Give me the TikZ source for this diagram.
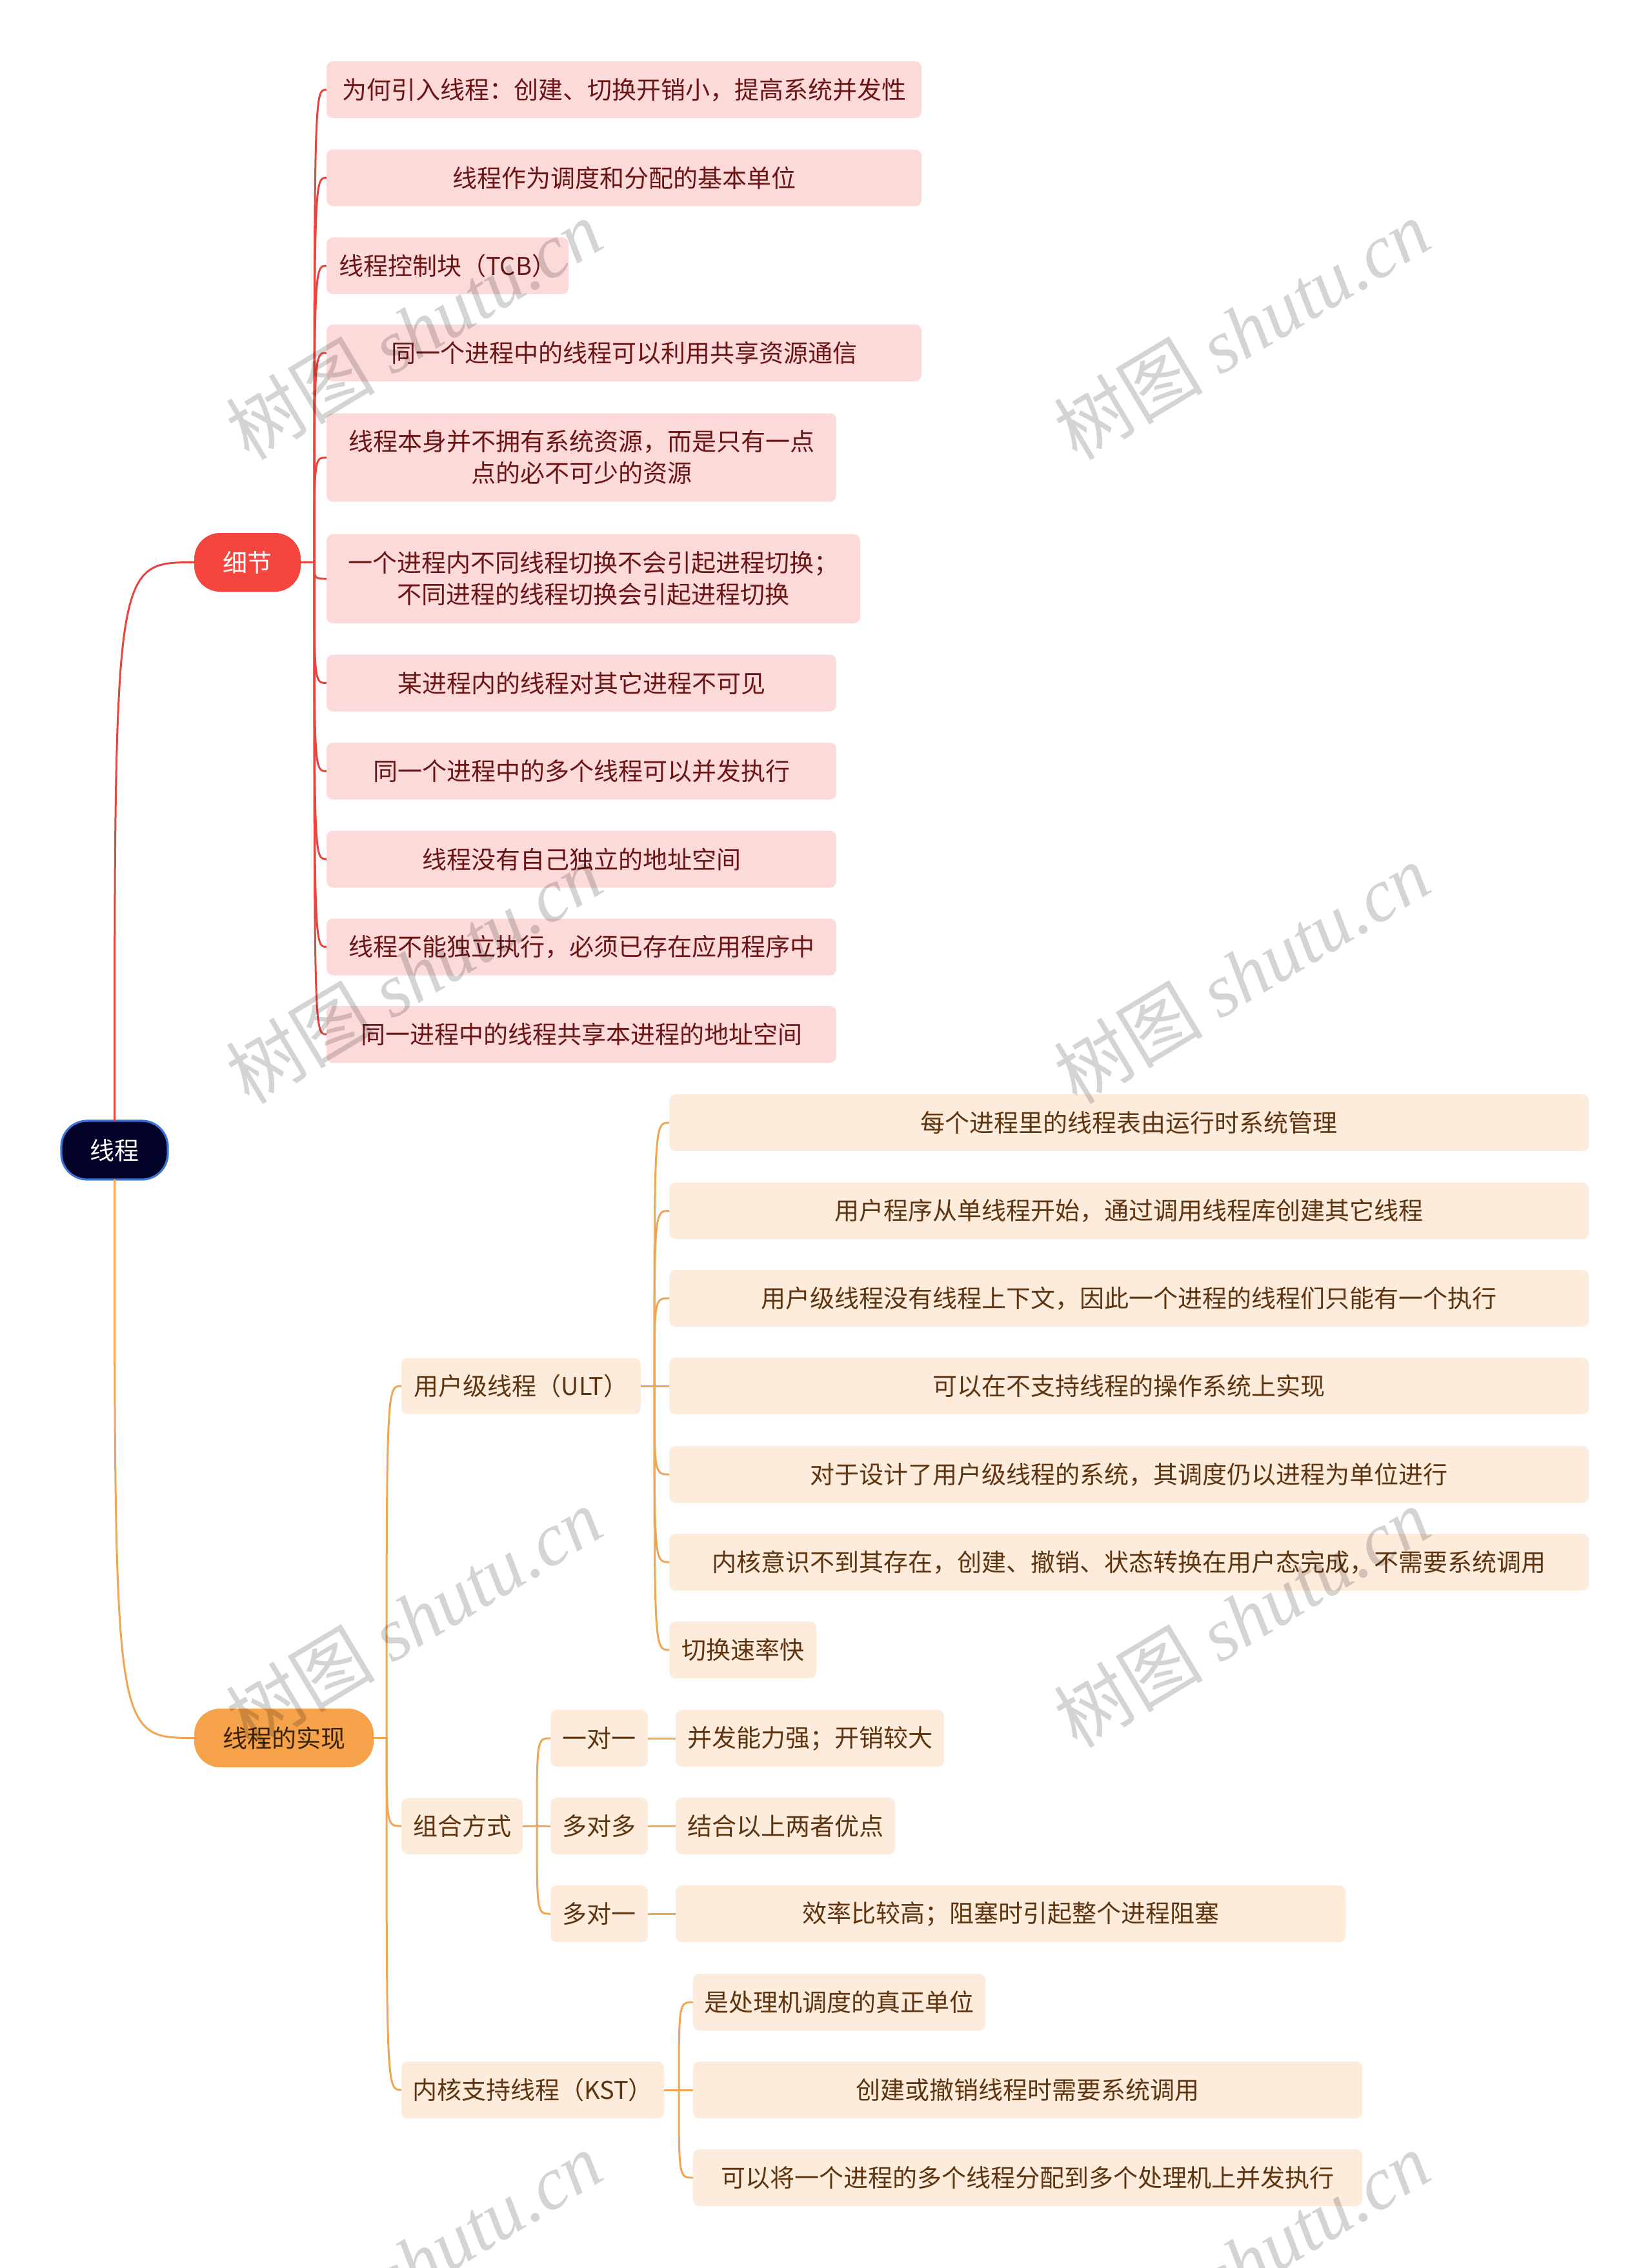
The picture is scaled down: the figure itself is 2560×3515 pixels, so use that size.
\documentclass[tikz,border=0pt]{standalone}
\usepackage{fontspec}
\newfontfamily\cjk{Noto Sans CJK SC}
\newfontfamily\wmlat{Liberation Serif}
\usetikzlibrary{calc}
\definecolor{rootfill}{HTML}{03032A}
\definecolor{rootdraw}{HTML}{3B74D6}
\definecolor{redmain}{HTML}{F5453F}
\definecolor{redline}{HTML}{E5463F}
\definecolor{pinkfill}{HTML}{FDDADA}
\definecolor{pinktext}{HTML}{6B1515}
\definecolor{orgmain}{HTML}{F5A24B}
\definecolor{orgline}{HTML}{F0A652}
\definecolor{beigefill}{HTML}{FDEBDB}
\definecolor{browntext}{HTML}{5E3510}
\definecolor{maintext}{HTML}{3A2206}
\begin{document}
\begin{tikzpicture}[x=0.25pt,y=-0.25pt,
  every node/.style={font=\cjk\fontsize{9.5pt}{12.25pt}\selectfont, inner sep=0pt, outer sep=0pt, align=center},
  mainbox/.style={rounded corners=10pt, minimum height=22.75pt},
  rootn/.style={mainbox, fill=rootfill, draw=rootdraw, line width=0.8pt, text=white, minimum width=41.25pt},
  dmain/.style={mainbox, fill=redmain, text=white, minimum width=41.25pt},
  rmain/.style={mainbox, fill=orgmain, text=maintext, minimum width=69.5pt},
  pleaf/.style={fill=pinkfill, text=pinktext, rounded corners=2.5pt, minimum height=22pt, anchor=west},
  bleaf/.style={fill=beigefill, text=browntext, rounded corners=2.5pt, minimum height=22pt, anchor=west},
  redln/.style={draw=redline, line width=0.75pt},
  orgln/.style={draw=orgline, line width=0.75pt},
  wmark/.style={rotate=31, text=black, text opacity=0.17, font=\cjk\fontsize{29pt}{29pt}\selectfont}
]
\fill[white] (0,0) rectangle (2560,3515);
\useasboundingbox (0,0) rectangle (2560,3515);

% main nodes
\node[rootn] (root) at (177.5,1782.5) {线程};
\node[dmain] (d) at (383.5,871.5) {细节};
\node[rmain] (r) at (440,2693.5) {线程的实现};

% detail leaves
\node[pleaf, minimum width=230.5pt] (d1) at (506,139) {为何引入线程：创建、切换开销小，提高系统并发性};
\node[pleaf, minimum width=230.5pt] (d2) at (506,275.5) {线程作为调度和分配的基本单位};
\node[pleaf, minimum width=93.75pt] (d3) at (506,412) {线程控制块（TCB）};
\node[pleaf, minimum width=230.5pt] (d4) at (506,547) {同一个进程中的线程可以利用共享资源通信};
\node[pleaf, minimum width=197.5pt, minimum height=34.25pt] (d5) at (506,709) {线程本身并不拥有系统资源，而是只有一点\\点的必不可少的资源};
\node[pleaf, minimum width=206.75pt, minimum height=34.5pt] (d6) at (506,897) {一个进程内不同线程切换不会引起进程切换；\\不同进程的线程切换会引起进程切换};
\node[pleaf, minimum width=197.5pt] (d7) at (506,1058.5) {某进程内的线程对其它进程不可见};
\node[pleaf, minimum width=197.5pt] (d8) at (506,1195) {同一个进程中的多个线程可以并发执行};
\node[pleaf, minimum width=197.5pt] (d9) at (506,1331.5) {线程没有自己独立的地址空间};
\node[pleaf, minimum width=197.5pt] (d10) at (506,1467.5) {线程不能独立执行，必须已存在应用程序中};
\node[pleaf, minimum width=197.5pt] (d11) at (506,1603) {同一进程中的线程共享本进程的地址空间};

% implementation branch
\node[bleaf, minimum width=92.75pt, minimum height=21.75pt] (u) at (622,2148) {用户级线程（ULT）};
\node[bleaf, minimum width=47pt, minimum height=21.75pt] (z) at (622,2830) {组合方式};
\node[bleaf, minimum width=101.75pt] (k) at (622,3239) {内核支持线程（KST）};

\node[bleaf, minimum width=356.25pt] (u1) at (1037,1740) {每个进程里的线程表由运行时系统管理};
\node[bleaf, minimum width=356.25pt] (u2) at (1037,1876.5) {用户程序从单线程开始，通过调用线程库创建其它线程};
\node[bleaf, minimum width=356.25pt] (u3) at (1037,2012) {用户级线程没有线程上下文，因此一个进程的线程们只能有一个执行};
\node[bleaf, minimum width=356.25pt] (u4) at (1037,2148) {可以在不支持线程的操作系统上实现};
\node[bleaf, minimum width=356.25pt] (u5) at (1037,2285) {对于设计了用户级线程的系统，其调度仍以进程为单位进行};
\node[bleaf, minimum width=356.25pt] (u6) at (1037,2421) {内核意识不到其存在，创建、撤销、状态转换在用户态完成，不需要系统调用};
\node[bleaf, minimum width=57pt] (u7) at (1037,2557) {切换速率快};

\node[bleaf, minimum width=37.75pt] (z1) at (853,2694) {一对一};
\node[bleaf, minimum width=37.75pt] (z2) at (853,2830) {多对多};
\node[bleaf, minimum width=37.75pt] (z3) at (853,2966) {多对一};
\node[bleaf, minimum width=104pt] (g1) at (1047,2694) {并发能力强；开销较大};
\node[bleaf, minimum width=85pt] (g2) at (1047,2830) {结合以上两者优点};
\node[bleaf, minimum width=259.5pt] (g3) at (1047,2966) {效率比较高；阻塞时引起整个进程阻塞};

\node[bleaf, minimum width=113.25pt] (k1) at (1074,3103) {是处理机调度的真正单位};
\node[bleaf, minimum width=259.25pt] (k2) at (1074,3239) {创建或撤销线程时需要系统调用};
\node[bleaf, minimum width=259.25pt] (k3) at (1074,3375) {可以将一个进程的多个线程分配到多个处理机上并发执行};

% connectors root
\draw[redln] (root.north) .. controls (root.north |- d.west) .. (d.west);
\draw[orgln] (root.south) .. controls (root.south |- r.west) .. (r.west);

% detail connectors
\path (d.east) ++(21,0) coordinate (dS);
\draw[redln] (d.east) -- (dS);
\foreach \i in {1,...,11} \draw[redln] (dS) .. controls (dS |- d\i.west) .. (d\i.west);

% implementation connectors
\path (r.east) ++(20,0) coordinate (rS);
\draw[orgln] (r.east) -- (rS);
\foreach \c in {u,z,k} \draw[orgln] (rS) .. controls (rS |- \c.west) .. (\c.west);

\path (u.east) ++(21,0) coordinate (uS);
\draw[orgln] (u.east) -- (uS);
\foreach \i in {1,...,7} \draw[orgln] (uS) .. controls (uS |- u\i.west) .. (u\i.west);

\path (z.east) ++(22,0) coordinate (zS);
\draw[orgln] (z.east) -- (zS);
\foreach \i in {1,2,3} \draw[orgln] (zS) .. controls (zS |- z\i.west) .. (z\i.west);
\draw[orgln] (z1.east) -- (g1.west);
\draw[orgln] (z2.east) -- (g2.west);
\draw[orgln] (z3.east) -- (g3.west);

\path (k.east) ++(23,0) coordinate (kS);
\draw[orgln] (k.east) -- (kS);
\foreach \i in {1,2,3} \draw[orgln] (kS) .. controls (kS |- k\i.west) .. (k\i.west);

% watermarks
\foreach \wx in {641,1924}
  \foreach \wy in {511,1509,2507,3505}
    \node[wmark] (wm-\wx-\wy) at (\wx,\wy) {树图 {\wmlat\itshape shutu.cn}};
\end{tikzpicture}
\end{document}
